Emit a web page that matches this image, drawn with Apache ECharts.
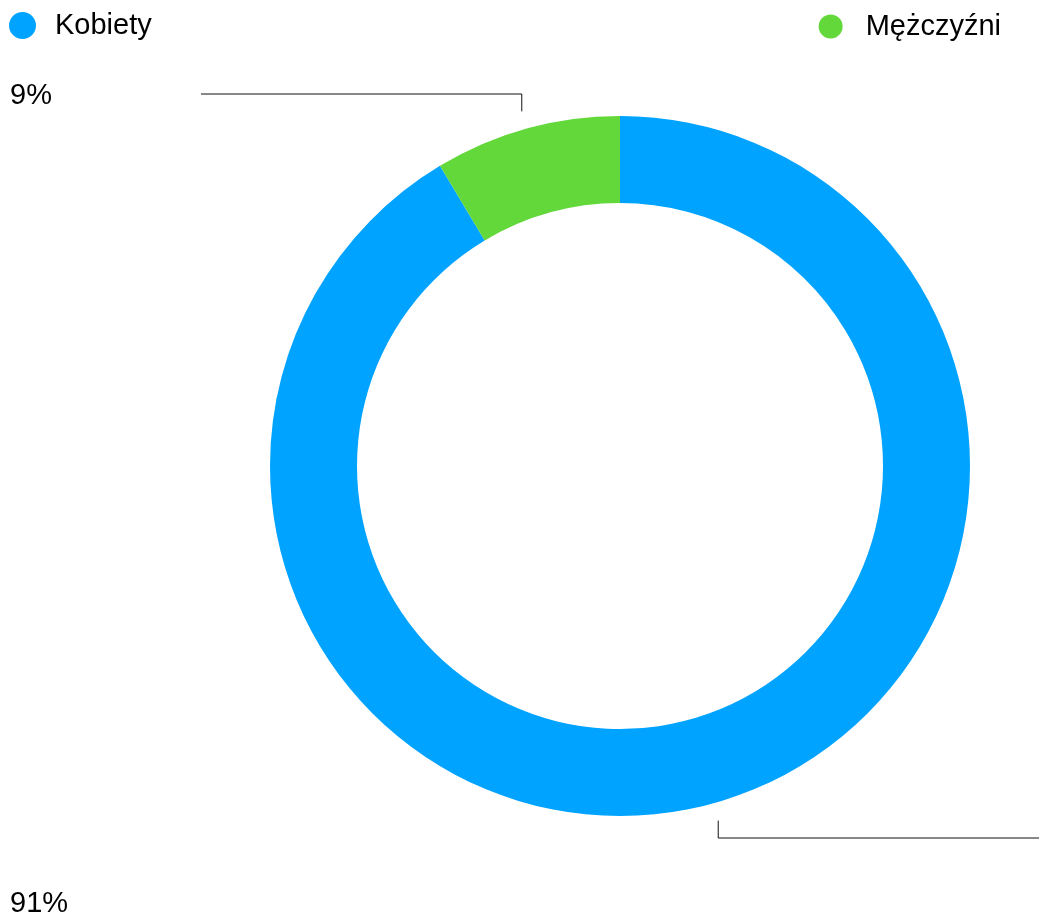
<!DOCTYPE html>
<html>
<head>
<meta charset="utf-8">
<script src="https://cdn.jsdelivr.net/npm/echarts@6/dist/echarts.min.js"></script>
<style>html,body{margin:0;padding:0;background:#fff;}#c{width:1039px;height:914px;}</style>
</head>
<body>
<div id="c"></div>
<script>
const categories = ['Kobiety', 'Mężczyźni'];
const values = [91.4, 8.6];
const colors = ['#00A3FF', '#62D83A'];

const CX = 620, CY = 466, R_IN = 263, R_OUT = 350;
const total = values.reduce((a, b) => a + b, 0);

function midAngle(i) {
  let before = 0;
  for (let k = 0; k < i; k++) before += values[k];
  const mid = (before + values[i] / 2) / total;
  return (90 - mid * 360) * Math.PI / 180;
}

const chart = echarts.init(document.getElementById('c'), null, {renderer: 'canvas'});
chart.setOption({
  animation: false,
  color: colors,
  legend: [
    {
      data: [categories[0]], left: 9, top: 11, padding: 0, icon: 'circle',
      itemWidth: 27, itemHeight: 27,
      textStyle: {fontFamily: 'Liberation Sans, Arial, sans-serif', fontSize: 29, color: '#000', padding: [0, 0, 0, 14]}
    },
    {
      data: [categories[1]], right: 38, top: 12, padding: 0, icon: 'circle',
      itemWidth: 24, itemHeight: 24,
      textStyle: {fontFamily: 'Liberation Sans, Arial, sans-serif', fontSize: 29, color: '#000', padding: [0, 0, 0, 18]}
    }
  ],
  series: [{
    type: 'pie',
    center: [CX, CY],
    radius: [R_IN, R_OUT],
    startAngle: 90,
    clockwise: true,
    label: {
      show: true,
      fontFamily: 'Liberation Sans, Arial, sans-serif',
      fontSize: 29,
      color: '#000',
      formatter: p => Math.round(p.percent) + '%'
    },
    labelLine: {show: true, lineStyle: {color: '#111', width: 1}},
    labelLayout: function (params) {
      const i = params.dataIndex;
      const a = midAngle(i);
      const r = R_OUT + 18;
      const x0 = CX + r * Math.cos(a);
      const y0 = CY - r * Math.sin(a);
      if (i === 1) {
        return {
          x: 10, y: 96, align: 'left', verticalAlign: 'middle',
          labelLinePoints: [[x0, y0], [x0, 94], [201, 94]]
        };
      }
      return {
        x: 10, y: 904, align: 'left', verticalAlign: 'middle',
        labelLinePoints: [[x0, y0], [x0, 838], [1039, 838]]
      };
    },
    emphasis: {disabled: true},
    data: categories.map((n, i) => ({name: n, value: values[i]}))
  }]
});
</script>
</body>
</html>
